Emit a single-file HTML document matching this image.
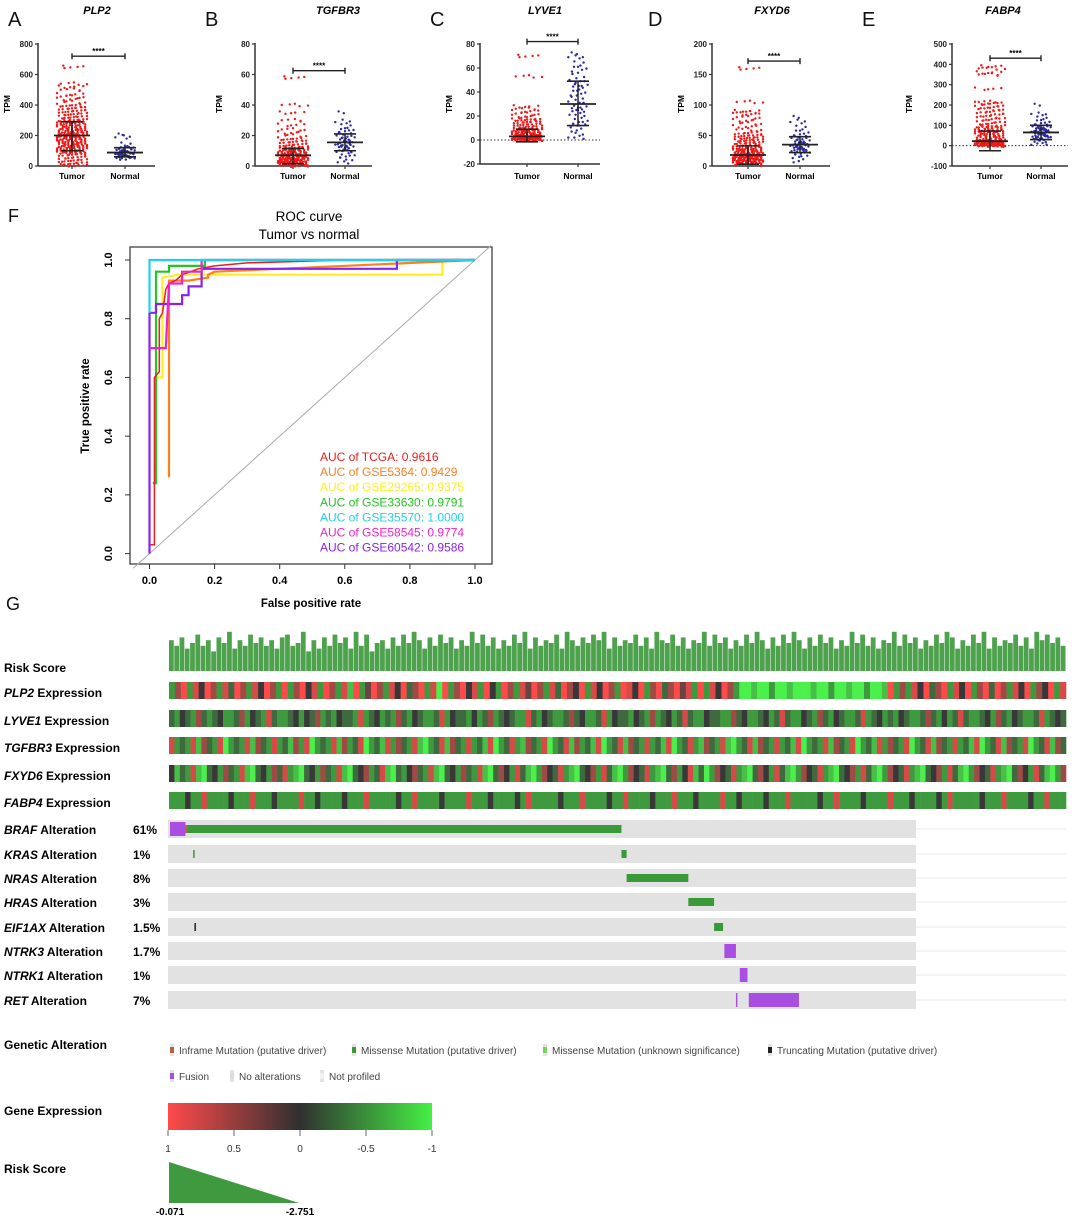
<!DOCTYPE html>
<html><head><meta charset="utf-8"><style>
html,body{margin:0;padding:0;background:#fff;}
svg{display:block;font-family:"Liberation Sans",Arial,sans-serif;}
</style></head><body>
<svg id="fig" width="1080" height="1218" viewBox="0 0 1080 1218" xmlns="http://www.w3.org/2000/svg">
<g id="scatters"></g>
<g id="roc"></g>
<g id="oncoprint"></g>
</svg>
<script>
// ---------- scatter data ----------
const geneTitles = ["PLP2","TGFBR3","LYVE1","FXYD6","FABP4"];
const panelLetters = ["A","B","C","D","E"];
const groupLabels = ["Tumor","Normal"];
const tumorA = [650,540,520,500,470,455,440,420,400,390,380,370,360,350,340,330,320,310,300,295,290,285,280,270,265,260,250,245,240,235,230,225,220,215,210,205,200,200,195,190,185,180,175,170,165,160,155,150,145,140,135,130,125,120,115,110,105,100,95,90,85,80,70,60,50,40,30,20,10,5];
const normalA = [205,200,180,150,130,125,120,115,110,105,100,98,95,92,90,88,85,82,80,78,75,72,70,68,65,62,60,58,55,50,45];
const tumorB = [58,40,35,30,27,24,22,20,18,17,16,15,14,13,12,12,11,11,10,10,9,9,8,8,8,7,7,7,6,6,6,5,5,5,5,4,4,4,4,3,3,3,3,2,2,2,2,1,1,1,1,0.5,0.5,0.2];
const normalB = [35,30,28,27,25,24,23,22,21,20,19,18,18,17,16,16,15,15,14,14,13,13,12,12,11,10,10,9,8,7,6,5,3,2];
const tumorC = [70,53,28,26,24,22,20,18,17,16,15,14,13,12,11,10,9,9,8,8,7,7,6,6,5,5,5,4,4,4,4,3,3,3,3,3,2,2,2,2,2,2,1,1,1,1,1,1,0.5,0.5,0.5,0.5,0.2,0.2,0.2];
const normalC = [72,70,68,65,62,60,58,55,52,50,48,46,45,44,42,40,38,36,34,32,30,28,27,26,25,24,22,20,18,16,14,13,12,10,8,5,3,1];
const tumorD = [160,105,90,88,85,80,75,70,65,60,55,52,50,48,46,44,42,40,38,36,34,32,30,29,28,27,26,25,24,23,22,21,20,20,19,18,18,17,16,16,15,15,14,14,13,13,12,12,11,11,10,10,9,9,8,8,7,7,6,5,4,3,2];
const normalD = [80,75,70,65,60,56,52,50,48,46,44,42,40,39,38,37,36,35,34,33,32,31,30,29,28,27,26,25,24,22,20,18,15,12,8];
const tumorE = [390,380,360,350,280,215,210,200,190,180,170,160,150,140,130,120,110,100,95,90,85,80,75,70,65,60,55,50,45,40,35,30,28,26,24,22,20,18,16,15,14,12,10,10,8,8,6,6,5,5,4,4,3,3,2,2,1,1,1,0.5,0.5];
const normalE = [200,160,150,140,130,120,110,105,100,95,90,88,85,82,80,78,75,72,70,68,65,62,60,58,55,52,50,48,45,42,40,38,35,30,25,20,10,5];
const tumorMean = [200,7,3,18,22];
const tumorLo = [100,1.5,-1.5,3,-25];
const tumorHi = [290,11.5,9,33,72];
const normalMean = [88,15.5,30,35,65];
const normalLo = [60,10,12,22,30];
const normalHi = [120,21,49,48,100];
const yMins = [0,0,-20,0,-100];
const yMaxs = [800,80,80,200,500];
const yTicksA = [0,200,400,600,800];
const yTicksB = [0,20,40,60,80];
const yTicksC = [-20,0,20,40,60,80];
const yTicksD = [0,50,100,150,200];
const yTicksE = [-100,0,100,200,300,400,500];
const sigLevel = [720,62.5,82,172,430];

// ---------- ROC data ----------
const rocNames = ["TCGA","GSE5364","GSE29265","GSE33630","GSE35570","GSE58545","GSE60542"];
const rocAUC = ["0.9616","0.9429","0.9375","0.9791","1.0000","0.9774","0.9586"];
const rocFpr = [
 [0,0,0.015,0.015,0.03,0.03,0.04,0.05,0.06,0.08,0.1,0.15,0.2,0.3,0.6,1],
 [0.06,0.06,0.06,0.12,0.18,0.18,0.2,1],
 [0.02,0.04,0.04,0.09,0.9,0.9,1],
 [0.01,0.02,0.02,0.06,0.06,0.17,0.17,1],
 [0,0,0.16,1],
 [0,0.05,0.06,0.1,0.1,0.16,0.16,0.76,1],
 [0,0,0.02,0.02,0.1,0.1,0.12,0.12,0.16,0.16,0.76,0.76,1]];
const rocTpr = [
 [0,0.03,0.03,0.6,0.62,0.8,0.82,0.9,0.92,0.93,0.95,0.97,0.98,0.99,1,1],
 [0.26,0.26,0.93,0.93,0.94,0.95,0.96,1],
 [0.6,0.6,0.94,0.95,0.95,1,1],
 [0.24,0.24,0.96,0.96,0.98,0.98,1,1],
 [0.82,1,1,1],
 [0.7,0.7,0.92,0.92,0.96,0.96,1,1,1],
 [0,0.82,0.82,0.85,0.85,0.88,0.88,0.91,0.91,0.97,0.97,1,1]];
const rocTicks = [0,0.2,0.4,0.6,0.8,1.0];

// ---------- oncoprint data ----------
const riskScore = "64735846275936485746378459263748573948256374859637485736495847364859374658396475869374658473965847365948573648596374859637485736495847365948573648597364859374658473968574".split('').map(Number);
const exprNames = ["PLP2","LYVE1","TGFBR3","FXYD6","FABP4"];
const exprPLP2 = "6206140261502614026062041602617063026140520618062041604602613026150240614026014062052031606140268878868878887886887886887062614052061406205026140624061".split('').map(Number);
const exprLYVE1 = "5645625654665264561566546452656455616546562564566516455646526545661564566525466516455645626546515664556625466546515664562564566516546564566525646515665462564566516545".split('').map(Number);
const exprTGFBR3 = "1656172561865617256165726186561726518657162561786517256165718651672561865172657186517256165718651672561786517256165718656172561865716256186517256165718651725618651725".split('').map(Number);
const exprFXYD6 = "4756178546256178546251678546256178542651785642561785462561785246157862451678542615786245167852641758624516785246157862451678542615786245167854261578624516785246157862".split('').map(Number);
const exprFABP4 = "6664661666646661666466661664666646661666664661666646666166646666461666664666166664661666646661666466661664666646661666664661666646666166646666461666664666166664661666".split('').map(Number);
const altGenes = ["BRAF","KRAS","NRAS","HRAS","EIF1AX","NTRK3","NTRK1","RET"];
const altPct = ["61%","1%","8%","3%","1.5%","1.7%","1%","7%"];
// segments: gene index, start sample, end sample, type (580 profiled samples)
const segGene = [0,0,0,1,1,2,3,4,4,5,6,7,7];
const segStart = [0,12,14,18,351,355,403,19,423,431,443,440,450];
const segEnd = [12,14,351,19,355,403,423,20,430,440,449,441,489];
const segType = ["fusion","inframe","missense","missense","missense","missense","missense","trunc","missense","fusion","fusion","fusion","fusion"];
const altSamples = 580;
</script>
<script>
const NS="http://www.w3.org/2000/svg";
function mk(parent,tag,attrs,text){const e=document.createElementNS(NS,tag);for(const k in attrs)e.setAttribute(k,attrs[k]);if(text!==undefined)e.textContent=text;parent.appendChild(e);return e;}

// ---------------- Scatter panels ----------------
const sc=document.getElementById('scatters');
const axX=[38,255,480,712,952], axEnd=[155,372,600,830,1068], tX=[72,293,527,748,990], nX=[125,345,578,800,1041];
const letterX=[8,205,430,648,862], titleX=[97,338,545,772,1003], tpmX=[10,222,452,684,912];
const yTop=44, yBot=[166,166,164,166,166];
const allT=[tumorA,tumorB,tumorC,tumorD,tumorE], allN=[normalA,normalB,normalC,normalD,normalE];
const allTicks=[yTicksA,yTicksB,yTicksC,yTicksD,yTicksE];
for(let p=0;p<5;p++){
  const g=mk(sc,'g',{});
  
  
  const ys=v=>yBot[p]-(v-yMins[p])/(yMaxs[p]-yMins[p])*(yBot[p]-yTop);
  const L=mk(g,'text',{x:letterX[p],y:26,'font-size':20,fill:'#111'},panelLetters[p]);
  
  
  const T=mk(g,'text',{x:titleX[p],y:14,'font-size':11,'font-weight':'bold','font-style':'italic','text-anchor':'middle'},geneTitles[p]);
  
  
  mk(g,'line',{x1:axX[p],y1:yTop-1,x2:axX[p],y2:yBot[p],stroke:'#333','stroke-width':1.5});
  mk(g,'line',{x1:axX[p],y1:yBot[p],x2:axEnd[p],y2:yBot[p],stroke:'#333','stroke-width':1.5});
  for(const t of allTicks[p]){
    const y=ys(t);
    mk(g,'line',{x1:axX[p]-3,y1:y,x2:axX[p],y2:y,stroke:'#333','stroke-width':1.2});
    const tl=mk(g,'text',{x:axX[p]-5,y:y+3,'font-size':8,'font-weight':'bold','text-anchor':'end',fill:'#222'},t);
    
    
  }
  if(yMins[p]<0){mk(g,'line',{x1:axX[p],y1:ys(0),x2:axEnd[p],y2:ys(0),stroke:'#333','stroke-width':1,'stroke-dasharray':'1.5,2'});}
  const tp=mk(g,'text',{x:tpmX[p],y:104,'font-size':8.5,'font-weight':'bold','text-anchor':'middle',transform:`rotate(-90 ${tpmX[p]} 104)`},'TPM');
  
  
  [tX[p],nX[p]].forEach((cx,gi)=>{
    mk(g,'line',{x1:cx,y1:yBot[p],x2:cx,y2:yBot[p]+3,stroke:'#333','stroke-width':1.2});
    const xl=mk(g,'text',{x:cx,y:179,'font-size':8.5,'font-weight':'bold','text-anchor':'middle'},groupLabels[gi]);
    
    
  });
  const drawDots=(vals,cx,col,w,reps)=>{
    vals.forEach((v,i)=>{for(let k=0;k<reps;k++){
      const off=(((i*5+k*7)%17)-8)/8*w*(0.4+0.6*Math.min(1,k/2+0.3));
      const d=mk(g,'circle',{cx:cx+off,cy:ys(v)+((k*3+i)%5-2)*0.6,r:1.2,fill:col});
      
      
    }});
  };
  drawDots(allT[p],tX[p],'#f21818',15,5);
  drawDots(allN[p],nX[p],'#2828a8',11,2);
  const eb=(cx,m,lo,hi)=>{
    mk(g,'line',{x1:cx,y1:ys(hi),x2:cx,y2:ys(lo),stroke:'#222','stroke-width':1.5});
    mk(g,'line',{x1:cx-18,y1:ys(m),x2:cx+18,y2:ys(m),stroke:'#222','stroke-width':1.8});
    mk(g,'line',{x1:cx-11,y1:ys(hi),x2:cx+11,y2:ys(hi),stroke:'#222','stroke-width':1.6});
    mk(g,'line',{x1:cx-11,y1:ys(lo),x2:cx+11,y2:ys(lo),stroke:'#222','stroke-width':1.6});
  };
  eb(tX[p],tumorMean[p],tumorLo[p],tumorHi[p]);
  eb(nX[p],normalMean[p],normalLo[p],normalHi[p]);
  const sy=ys(sigLevel[p]);
  const sb=mk(g,'path',{d:`M${tX[p]} ${sy-3}V${sy+3}M${tX[p]} ${sy}H${nX[p]}M${nX[p]} ${sy-3}V${sy+3}`,stroke:'#222','stroke-width':1.4,fill:'none'});
  
  
  mk(g,'text',{x:(tX[p]+nX[p])/2,y:sy-2,'font-size':8,'font-weight':'bold','text-anchor':'middle'},'****');
}

// ---------------- ROC ----------------
const rc=document.getElementById('roc');
const rx=v=>149.5+v*(475-149.5), ry=v=>553.6-v*(553.6-260);
mk(rc,'text',{x:309,y:221,'font-size':13.5,'text-anchor':'middle'},'ROC curve');
mk(rc,'text',{x:309,y:239,'font-size':13.5,'text-anchor':'middle'},'Tumor vs normal');
const fl=mk(rc,'text',{x:8,y:222,'font-size':18,fill:'#111'},'F');


const box=mk(rc,'rect',{x:130,y:247,width:362,height:317,fill:'none',stroke:'#333','stroke-width':1.2});


mk(rc,'line',{x1:rx(-0.05),y1:ry(-0.05),x2:rx(1.05),y2:ry(1.05),stroke:'#aaa','stroke-width':1});
for(const t of rocTicks){
  mk(rc,'line',{x1:rx(t),y1:564,x2:rx(t),y2:569,stroke:'#333'});
  const xl=mk(rc,'text',{x:rx(t),y:584,'font-size':11,'font-weight':'bold','text-anchor':'middle'},t.toFixed(1));
  
  
  mk(rc,'line',{x1:125,y1:ry(t),x2:130,y2:ry(t),stroke:'#333'});
  const yl=mk(rc,'text',{x:112,y:ry(t),'font-size':11,'font-weight':'bold','text-anchor':'middle',transform:`rotate(-90 112 ${ry(t)})`},t.toFixed(1));
  
  
}
const xt=mk(rc,'text',{x:311,y:607,'font-size':11.5,'font-weight':'bold','text-anchor':'middle'},'False positive rate');


const yt=mk(rc,'text',{x:89,y:406,'font-size':11.5,'font-weight':'bold','text-anchor':'middle',transform:'rotate(-90 89 406)'},'True positive rate');


const rocCols=['#ee1c1c','#ff7f1a','#ffee22','#22c522','#22d0ee','#ee22cc','#8a22ee'];
const drawOrder=[2,1,3,0,6,5,4];
for(const s of drawOrder){
  let d='';
  rocFpr[s].forEach((f,i)=>{d+=(i?'L':'M')+rx(f).toFixed(1)+' '+ry(rocTpr[s][i]).toFixed(1);});
  const pl=mk(rc,'path',{d:d,fill:'none',stroke:rocCols[s],'stroke-width':s===0?1.5:2.2});
  
  
}
rocNames.forEach((n,i)=>{
  const t=mk(rc,'text',{x:320,y:461+i*15.1,'font-size':12,fill:rocCols[i]},'AUC of '+n+': '+rocAUC[i]);
  
  
});

// ---------------- Oncoprint ----------------
const on=document.getElementById('oncoprint');
const gl=mk(on,'text',{x:6,y:610,'font-size':18,fill:'#111'},'G');


const hx0=169, hx1=1066;
const lab=(y,ital,rest,name)=>{
  const t=mk(on,'text',{x:4,y:y,'font-size':12,'font-weight':'bold'});
  
  
  if(ital){mk(t,'tspan',{'font-style':'italic'},ital);}
  mk(t,'tspan',{},rest);
};
lab(672,'','Risk Score','risk-score-label');
const rw=(hx1-hx0)/riskScore.length;
riskScore.forEach((v,i)=>{
  const h=14+v*2.8;
  const b=mk(on,'rect',{x:hx0+i*rw,y:671-h,width:rw-0.5,height:h,fill:'#4ea24e'});
  
  
});
const exprRows=[exprPLP2,exprLYVE1,exprTGFBR3,exprFXYD6,exprFABP4];
const exprCols=['#ff4a4a','#d84a48','#a04a45','#6a4442','#383838','#3f6a3f','#3f9a3f','#48c048','#4cf04c'];
const rowTop=[682,710,737,765,792];
exprRows.forEach((row,r)=>{
  lab(rowTop[r]+15,exprNames[r],' Expression','expression-label');
  const w=(hx1-hx0)/row.length;
  row.forEach((v,i)=>{
    const c=mk(on,'rect',{x:hx0+i*w,y:rowTop[r],width:w+0.3,height:17,fill:exprCols[v]});
    
    
  });
});
const altTop=[820,845,869,893,918,942,966,991];
const ax0=168, ax1=916;
const sx=s=>ax0+2+s/altSamples*(ax1-ax0-2);
altGenes.forEach((gname,r)=>{
  lab(altTop[r]+14,gname,' Alteration','alteration-label');
  const p=mk(on,'text',{x:133,y:altTop[r]+14,'font-size':12,'font-weight':'bold'},altPct[r]);
  
  
  const bg=mk(on,'rect',{x:ax0,y:altTop[r],width:ax1-ax0,height:18,fill:'#e2e2e2'});
  
  
  mk(on,'line',{x1:ax1,y1:altTop[r]+9,x2:1066,y2:altTop[r]+9,stroke:'#e8e8e8','stroke-width':1});
});
const segCol={fusion:'#a84ee0',inframe:'#b0663c',missense:'#3a9a3a',trunc:'#222'};
segGene.forEach((gi,k)=>{
  const t=segType[k];
  const full=(t==='fusion');
  const y=full?altTop[gi]+2:altTop[gi]+5;
  const h=full?14:8;
  const x=sx(segStart[k]), w=Math.max(1.5,sx(segEnd[k])-x);
  const s=mk(on,'rect',{x:x,y:y,width:w,height:h,fill:segCol[t]});
  
  
});
lab(1049,'','Genetic Alteration','genetic-alteration-title');
const legItems=[[170,1054,'#b0663c','Inframe Mutation (putative driver)'],[352,1054,'#3a9a3a','Missense Mutation (putative driver)'],[543,1054,'#7ad45a','Missense Mutation (unknown significance)'],[768,1054,'#222','Truncating Mutation (putative driver)'],[170,1080,'#a84ee0','Fusion'],[230,1080,'#dddddd','No alterations'],[320,1080,'#f2f2f2','Not profiled']];
legItems.forEach(it=>{
  mk(on,'rect',{x:it[0],y:it[1]-10,width:4,height:12,fill:'#e2e2e2'});
  mk(on,'rect',{x:it[0],y:it[1]-7,width:4,height:6,fill:it[2]});
  const t=mk(on,'text',{x:it[0]+9,y:it[1],'font-size':10,fill:'#444'},it[3]);
  
  
});
lab(1115,'','Gene Expression','gene-expression-title');
const defs=mk(on,'defs',{});
const lg=mk(defs,'linearGradient',{id:'gexp',x1:0,x2:1,y1:0,y2:0});
mk(lg,'stop',{offset:'0','stop-color':'#ff4a4a'});
mk(lg,'stop',{offset:'0.5','stop-color':'#303030'});
mk(lg,'stop',{offset:'1','stop-color':'#44f044'});
const gb=mk(on,'rect',{x:168,y:1103,width:264,height:27,fill:'url(#gexp)'});


const gTicks=['1','0.5','0','-0.5','-1'];
gTicks.forEach((t,i)=>{
  const x=168+i*66;
  mk(on,'line',{x1:x,y1:1130,x2:x,y2:1136,stroke:'#666'});
  mk(on,'text',{x:x,y:1152,'font-size':10,'text-anchor':'middle',fill:'#333'},t);
});
lab(1173,'','Risk Score','risk-score-legend-title');
const tri=mk(on,'path',{d:'M169 1162L169 1203L299 1203Z',fill:'#3f9a3f'});


mk(on,'text',{x:170,y:1215,'font-size':10,'font-weight':'bold','text-anchor':'middle'},'-0.071');
mk(on,'text',{x:300,y:1215,'font-size':10,'font-weight':'bold','text-anchor':'middle'},'-2.751');
</script>
</body></html>
